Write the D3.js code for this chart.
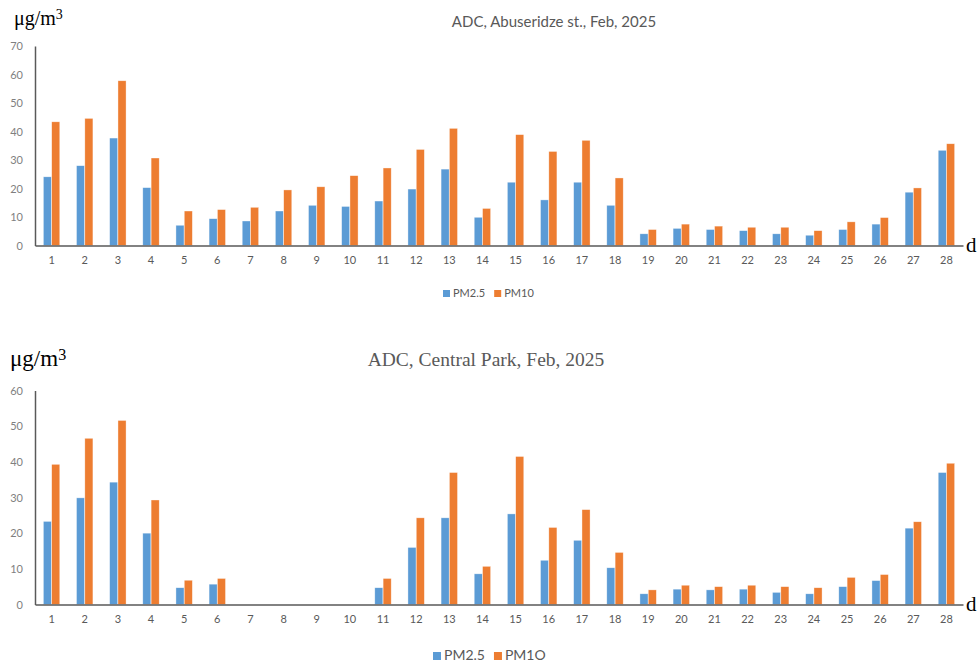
<!DOCTYPE html>
<html><head><meta charset="utf-8">
<script src="https://cdn.jsdelivr.net/npm/d3@7"></script>
<style>body{margin:0;background:#fff}svg{display:block}</style>
</head><body>
<svg id="c" width="980" height="664"></svg>
<script>
const days = d3.range(1, 29).map(String);
const seriesTop = ["PM2.5", "PM10"];
const seriesBottom = ["PM2.5", "PM1O"];
const topPM25 = [24.1,28.0,37.7,20.3,7.1,9.4,8.6,12.1,14.1,13.7,15.6,19.8,26.8,9.9,22.2,16.0,22.2,14.1,4.1,6.0,5.6,5.2,4.1,3.6,5.6,7.5,18.7,33.4];
const topPM10 = [43.4,44.6,57.8,30.7,12.1,12.6,13.4,19.5,20.6,24.5,27.2,33.7,41.1,13.0,38.9,33.0,36.9,23.7,5.6,7.5,6.8,6.4,6.4,5.2,8.3,9.8,20.2,35.7];
const botPM25 = [23.3,29.9,34.3,20.0,4.7,5.7,0,0,0,0,4.7,16.0,24.3,8.6,25.4,12.4,18.0,10.3,3.0,4.3,4.1,4.3,3.4,3.0,5.0,6.7,21.4,37.0];
const botPM10 = [39.3,46.6,51.6,29.3,6.8,7.3,0,0,0,0,7.3,24.3,37.0,10.7,41.5,21.6,26.6,14.6,4.1,5.4,5.0,5.4,5.0,4.7,7.6,8.4,23.2,39.6];
const topTicks = [0,10,20,30,40,50,60,70];
const botTicks = [0,10,20,30,40,50,60];

const colors = ["#5B9BD5", "#ED7D31"];
const svg = d3.select("#c");

function panel(cfg) {
  const g = svg.append("g");
  const x = d3.scaleBand().domain(days).range([35, 963]).paddingInner(0.49).paddingOuter(0.245);
  const xs = d3.scaleBand().domain([0,1]).range([0, x.bandwidth()]).padding(0.03);
  const y = d3.scaleLinear().domain([0, cfg.max]).range([cfg.base, cfg.top]);
  const data = days.map((d, i) => ({d, v: [cfg.a[i], cfg.b[i]]}));
  const grp = g.selectAll("g.day").data(data).join("g").attr("transform", d => `translate(${x(d.d)},0)`);
  grp.selectAll("rect").data(d => d.v.map((v, k) => ({v, k}))).join("rect")
    .attr("x", d => xs(d.k)).attr("width", xs.bandwidth())
    .attr("y", d => y(d.v)).attr("height", d => y(0) - y(d.v))
    .attr("fill", d => colors[d.k]).attr("stroke", "#fff").attr("stroke-opacity", 0.6).attr("stroke-width", 0.6);
  const ya = g.append("g").attr("transform", "translate(35,0)")
    .call(d3.axisLeft(y).tickValues(cfg.ticks).tickSize(0).tickPadding(12));
  ya.select(".domain").attr("stroke", "#595959").attr("stroke-width", 1.5);
  ya.selectAll("text").attr("fill", "#7f7f7f").style("font-family", "Lato, 'Open Sans', sans-serif").style("font-size", "11px");
  const xa = g.append("g").attr("transform", `translate(0,${cfg.base})`)
    .call(d3.axisBottom(x).tickSize(0).tickPadding(11));
  xa.select(".domain").attr("stroke", "#595959").attr("stroke-width", 1.5);
  xa.selectAll("text").attr("fill", "#595959").style("font-family", "Lato, 'Open Sans', sans-serif").style("font-size", "11px");
  const u = g.append("text").attr("x", cfg.unitX).attr("y", cfg.unitY)
    .style("font-family", "'Liberation Serif', 'DejaVu Serif', serif").style("font-size", cfg.unitSize + "px").attr("fill", "#000");
  u.append("tspan").text("μg/m");
  u.append("tspan").attr("dy", "-0.4em").style("font-size", "0.7em").text("3");
  g.append("text").attr("x", 966).attr("y", cfg.base + 6).text("d")
    .style("font-family", "'Liberation Serif', serif").style("font-size", "21px").attr("fill", "#000");
  g.append("text").attr("x", cfg.titleX).attr("y", cfg.titleY).attr("text-anchor", "middle").text(cfg.title)
    .style("font-family", cfg.titleFont).style("font-size", cfg.titleSize + "px").attr("fill", "#595959");
  const lg = g.append("g").attr("transform", `translate(${cfg.legX},${cfg.legY})`);
  let off = 0;
  cfg.series.forEach((s, k) => {
    lg.append("rect").attr("x", off).attr("y", -cfg.legSq + 1).attr("width", cfg.legSq).attr("height", cfg.legSq).attr("fill", colors[k]);
    const t = lg.append("text").attr("x", off + cfg.legSq + 3).attr("y", 1).text(s)
      .style("font-family", "Lato, 'Open Sans', sans-serif").style("font-size", cfg.legSize + "px").attr("fill", "#595959");
    off += t.node().getComputedTextLength() + cfg.legSq + 12;
  });
}

panel({a: topPM25, b: topPM10, max: 70, ticks: topTicks, base: 245.5, top: 46,
  title: "ADC, Abuseridze st., Feb, 2025", titleX: 554, titleY: 27, titleSize: 15, titleFont: "Lato, 'Open Sans', sans-serif",
  unitX: 14, unitY: 25, unitSize: 20, series: seriesTop, legX: 443, legY: 296, legSq: 7, legSize: 11});
panel({a: botPM25, b: botPM10, max: 60, ticks: botTicks, base: 604.5, top: 390.5,
  title: "ADC, Central Park, Feb, 2025", titleX: 486, titleY: 366, titleSize: 19.5, titleFont: "'Liberation Serif', serif",
  unitX: 10, unitY: 366, unitSize: 23, series: seriesBottom, legX: 433, legY: 659, legSq: 8, legSize: 14});
</script>
</body></html>
